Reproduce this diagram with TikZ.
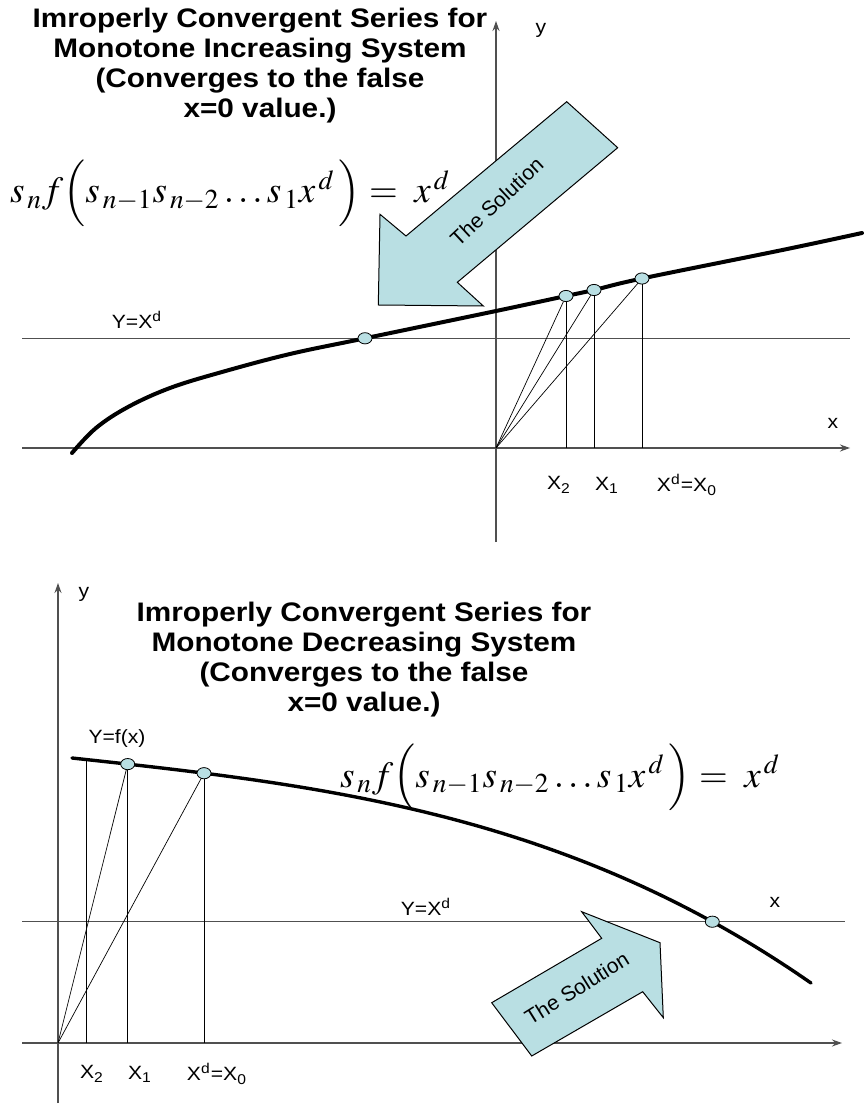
\documentclass[tikz,border=0pt]{standalone}
\usepackage{mathptmx}
\usepackage{fontspec}
\setsansfont{Liberation Sans}
\usepackage{tikz}
\usetikzlibrary{arrows.meta,shapes.geometric}
\definecolor{DotFill}{HTML}{B9DFE3}
\definecolor{AxisGray}{HTML}{505050}
\tikzset{
  >={Stealth[length=5pt,width=3.5pt]},
  axis/.style={AxisGray,line width=0.6pt},
  guide/.style={black,line width=0.35pt},
  fcurve/.style={line width=2pt,line cap=round},
  dot/.style={ellipse,draw,fill=DotFill,minimum width=7pt,minimum height=5.6pt,inner sep=0pt,line width=0.4pt},
  lbl/.style={font=\sffamily\fontsize{9.6}{11}\selectfont,transform shape,xscale=1.1},
  ttl/.style={font=\sffamily\bfseries\fontsize{13.4}{15}\selectfont,align=center,transform shape,xscale=1.11},
  eqn/.style={font=\fontsize{18.5}{22.5}\selectfont},
  solarrow/.style={fill=DotFill,draw=black,line width=0.5pt},
  soltxt/.style={font=\sffamily\fontsize{10.5}{12}\selectfont}
}
\newcommand{\seqeq}{$s_{\,n} f\Bigl(s_{\,n-1} s_{\,n-2} \ldots s_{\,1} x^{\,d}\,\Bigr) = \;x^{\,d}$}
\begin{document}
\begin{tikzpicture}[x=0.5pt,y=-0.5pt]
  \useasboundingbox (0,0) rectangle (865,1106);

  % monotone increasing system
  \coordinate (O1) at (496,448);
  \draw[axis,->] (22,448) -- (850,448);
  \draw[axis,->] (496,542) -- (496,21);
  \draw[axis] (22,338.3) -- (850,338.3);
  \fill[solarrow] (566.7,101.7) -- (617.7,147.7) -- (457.3,282.3) -- (483.3,306)
    -- (378.3,305) -- (380,214.3) -- (406,236) -- cycle;
  \node[soltxt,rotate=43] (sol1) at (496.7,201.7) {The Solution};
  \draw[fcurve] plot[smooth,tension=0.6] coordinates {(72,453) (96,428) (128,407)
    (170,388) (222,372) (290,354) (365,338.3) (496,311) (566,296) (594,290)
    (642,278.5) (780,250.5) (862,233)};
  \node[dot] (r1) at (365,338.3) {};
  \node[dot] (a2) at (566,296) {};
  \node[dot] (a1) at (594,290) {};
  \node[dot] (a0) at (642,278.5) {};
  \foreach \p in {a2,a1,a0}{
    \draw[guide] (O1) -- (\p);
    \draw[guide] (\p) -- (\p |- O1);
  }
  \node[ttl] (ttl1) at (260,66) {Imroperly Convergent Series for\\Monotone Increasing System\\(Converges to the false\\x=0 value.)};
  \node[eqn,anchor=base] (eq1) at (230,203) {\seqeq};
  \node[lbl] (yl1) at (541,30) {y};
  \node[lbl] (xl1) at (833,423) {x};
  \node[lbl] (hl1) at (137,320) {Y=X\textsuperscript{d}};
  \node[lbl] (x2a) at (559,485) {X\textsubscript{2}};
  \node[lbl] (x1a) at (607,485) {X\textsubscript{1}};
  \node[lbl] (x0a) at (687,485) {X\textsuperscript{d}=X\textsubscript{0}};

  % monotone decreasing system
  \coordinate (O2) at (58,1043);
  \coordinate (c2) at (86,759.5);
  \draw[axis,->] (22,1043) -- (842,1043);
  \draw[axis,->] (58,1103) -- (58,583);
  \draw[axis] (22,921.7) -- (845,921.7);
  \draw[fcurve,line width=1.7pt] plot[domain=72:811,samples=80]
    (\x,{758+10.85*(\x-72)/100+0.3589*((\x-72)/100)^3});
  \node[dot] (r2) at (712.3,921.7) {};
  \node[dot] (b1) at (127.7,764.1) {};
  \node[dot] (b0) at (204,773.2) {};
  \draw[guide] (c2) -- (c2 |- O2);
  \foreach \p in {b1,b0}{
    \draw[guide] (O2) -- (\p);
    \draw[guide] (\p) -- (\p |- O2);
  }
  \fill[solarrow] (491.7,1002.7) -- (601.7,938.3) -- (581.7,911.7) -- (660,942.7)
    -- (663.3,1017.7) -- (642.7,991.7) -- (531.7,1056) -- cycle;
  \node[soltxt,rotate=32] (sol2) at (576.7,988.3) {The Solution};
  \node[ttl] (ttl2) at (364,660) {Imroperly Convergent Series for\\Monotone Decreasing System\\(Converges to the false\\x=0 value.)};
  \node[eqn,anchor=base] (eq2) at (560,787) {\seqeq};
  \node[lbl] (yl2) at (84,594) {y};
  \node[lbl] (xl2) at (775,902) {x};
  \node[lbl] (fl2) at (117,739) {Y=f(x)};
  \node[lbl] (hl2) at (426,907) {Y=X\textsuperscript{d}};
  \node[lbl] (x2b) at (92,1074) {X\textsubscript{2}};
  \node[lbl] (x1b) at (140,1074) {X\textsubscript{1}};
  \node[lbl] (x0b) at (217,1074) {X\textsuperscript{d}=X\textsubscript{0}};
\end{tikzpicture}
\end{document}
